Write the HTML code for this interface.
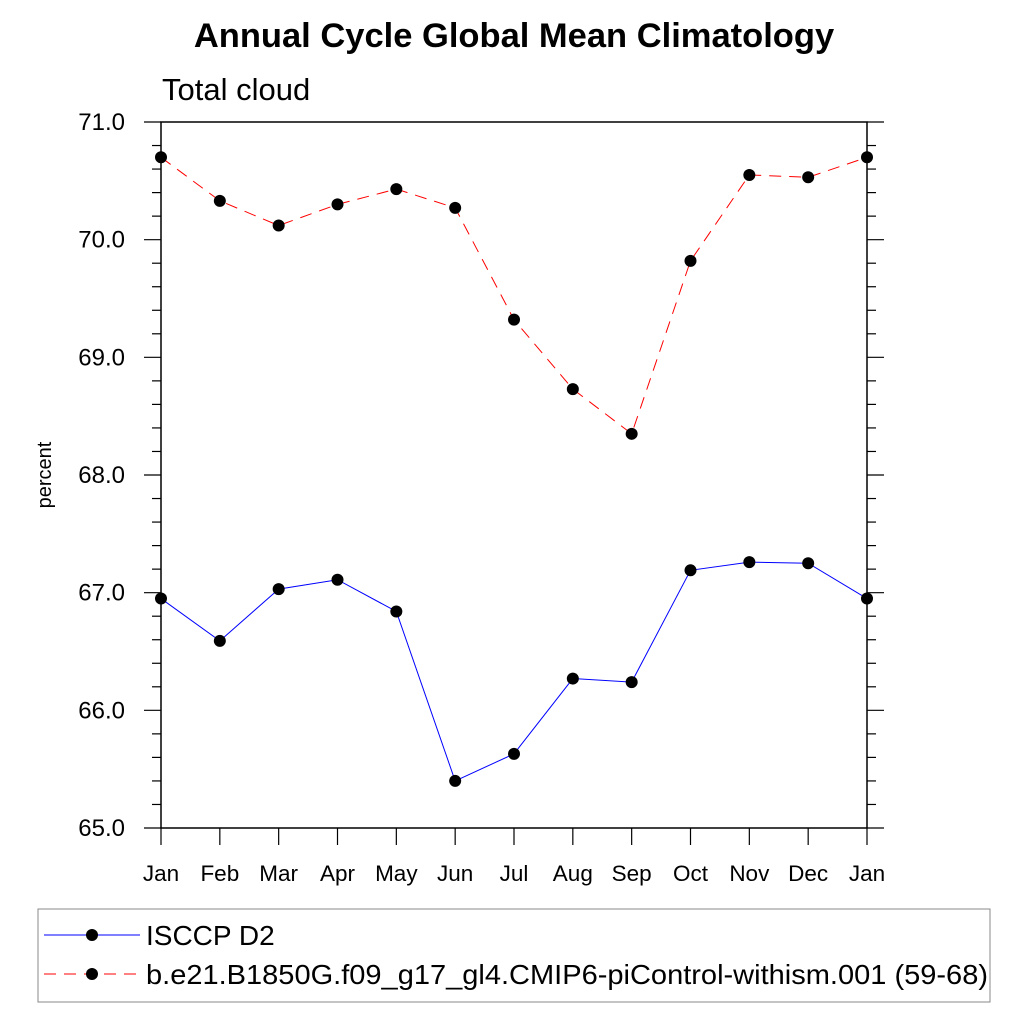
<!DOCTYPE html>
<html><head><meta charset="utf-8"><style>
body{margin:0;background:#fff;}
svg text{font-family:"Liberation Sans",sans-serif;}
</style></head><body>
<svg id="c" width="1024" height="1024" xmlns="http://www.w3.org/2000/svg">
<text x="514" y="47" text-anchor="middle" font-size="34.5" font-weight="bold">Annual Cycle Global Mean Climatology</text>
<text x="162" y="100" font-size="31">Total cloud</text>
<text transform="translate(51,475) rotate(-90)" text-anchor="middle" font-size="20">percent</text>
<g id="axes"></g>
<g id="series"></g>
<rect x="38" y="909" width="952" height="93" fill="none" stroke="#888" stroke-width="1"/>
<g>
<line x1="44" y1="935" x2="140" y2="935" stroke="#00f" stroke-width="1"/>
<circle cx="92" cy="935" r="6" fill="#000"/>
<text x="146" y="945" font-size="28">ISCCP D2</text></g>
<g>
<line x1="44" y1="974" x2="140" y2="974" stroke="#f00" stroke-width="1" stroke-dasharray="12,8"/>
<circle cx="92" cy="974" r="6" fill="#000"/>
<text x="146" y="984" font-size="28" textLength="842" lengthAdjust="spacingAndGlyphs">b.e21.B1850G.f09_g17_gl4.CMIP6-piControl-withism.001 (59-68)</text></g>
</svg>
<script>
const months=["Jan","Feb","Mar","Apr","May","Jun","Jul","Aug","Sep","Oct","Nov","Dec","Jan"];
const isccp=[66.95,66.59,67.03,67.11,66.84,65.40,65.63,66.27,66.24,67.19,67.26,67.25,66.95];
const model=[70.70,70.33,70.12,70.30,70.43,70.27,69.32,68.73,68.35,69.82,70.55,70.53,70.70];
const yTicks=["65.0","66.0","67.0","68.0","69.0","70.0","71.0"];
const NS="http://www.w3.org/2000/svg";
const L=161,R=867,T=122,B=828,ymin=65,ymax=71;
const xs=i=>L+(R-L)*i/(months.length-1);
const ys=v=>B-(v-ymin)/(ymax-ymin)*(B-T);
function mk(p,tag,a){const e=document.createElementNS(NS,tag);for(const k in a)e.setAttribute(k,a[k]);p.appendChild(e);return e;}
const ax=document.getElementById('axes');
const fr=mk(ax,'rect',{x:L,y:T,width:R-L,height:B-T,fill:'none',stroke:'#000','stroke-width':1.5});


for(let v=ymin;v<=ymax+1e-6;v+=0.2){
 const y=ys(v);const maj=Math.abs(v-Math.round(v))<1e-6;const len=maj?17:9;
 mk(ax,'line',{x1:L-len,y1:y,x2:L,y2:y,stroke:'#000','stroke-width':1.2});
 mk(ax,'line',{x1:R,y1:y,x2:R+len,y2:y,stroke:'#000','stroke-width':1.2});
}
yTicks.forEach(t=>{const e=mk(ax,'text',{x:125,y:ys(parseFloat(t))+8,'text-anchor':'end','font-size':24});e.textContent=t;

});
months.forEach((m,i)=>{const x=xs(i);
 mk(ax,'line',{x1:x,y1:B,x2:x,y2:B+17,stroke:'#000','stroke-width':1.2});
 const e=mk(ax,'text',{x:x,y:881,'text-anchor':'middle','font-size':22.5});e.textContent=m;
 
 });
const sg=document.getElementById('series');
function draw(d,col,dash,name){
 const g=mk(sg,'g',{});
 
 
 const a={points:d.map((v,i)=>xs(i)+','+ys(v)).join(' '),fill:'none',stroke:col,'stroke-width':1};
 if(dash)a['stroke-dasharray']=dash;
 mk(g,'polyline',a);
 d.forEach((v,i)=>{const c=mk(g,'circle',{cx:xs(i),cy:ys(v),r:6,fill:'#000'});
 
 });
}
draw(isccp,'#00f',null,'isccp-series');
draw(model,'#f00','12,8','model-series');
</script>
</body></html>
